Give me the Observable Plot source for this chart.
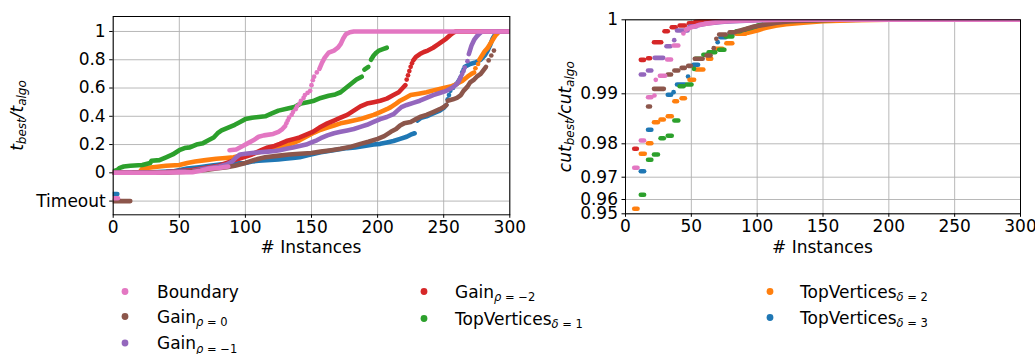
<!DOCTYPE html>
<html><head><meta charset="utf-8">
<script src="https://cdn.jsdelivr.net/npm/d3@7"></script>
<script src="https://cdn.jsdelivr.net/npm/@observablehq/plot@0.6"></script>
<style>
body{margin:0;background:#fff;}
#wrap{position:relative;width:1035px;height:354px;font-family:"DejaVu Sans",sans-serif;}
#wrap svg{position:absolute;top:0;}
</style></head><body><div id="wrap"></div>
<script>
// ---------- series ----------
const seriesKeys = ["top3","top2","top1","gain2","gain1","gain0","boundary"]; // drawing order
const seriesColors = {top3:"#1f77b4", top2:"#ff7f0e", top1:"#2ca02c", gain2:"#d62728", gain1:"#9467bd", gain0:"#8c564b", boundary:"#e377c2"};
const legendOrder = ["boundary","gain0","gain1","gain2","top1","top2","top3"];
const legendLabels = {
  boundary: [["Boundary"]],
  gain0: [["Gain"],["ρ","si"],[" = 0","s"]],
  gain1: [["Gain"],["ρ","si"],[" = −1","s"]],
  gain2: [["Gain"],["ρ","si"],[" = −2","s"]],
  top1: [["TopVertices"],["δ","si"],[" = 1","s"]],
  top2: [["TopVertices"],["δ","si"],[" = 2","s"]],
  top3: [["TopVertices"],["δ","si"],[" = 3","s"]]
};

// ---------- axis ticks ----------
const xTicks = [0,50,100,150,200,250,300];
const leftYTicks = [-0.2,0,0.2,0.4,0.6,0.8,1];
const rightYTicks = [0.95,0.96,0.97,0.98,0.99,1];

// ---------- left panel: t_best / t_algo (dense runs, sparse points, timeouts) ----------
const lBoundary = [
 [[0,0],[30,0],[60,0.005],[66,0.015],[73,0.03],[80,0.035],[87,0.045]],
 [[88,0.16],[93,0.165],[98,0.19],[102,0.21],[106,0.23],[110,0.255],[114,0.265],[121,0.275],[125,0.29],[128,0.31],[130,0.33]],
 [[156,0.735],[158,0.78],[160,0.815],[163,0.85],[167,0.865],[170,0.885],[172,0.91],[174,0.95],[176,0.98],[179,0.995],[182,1],[300,1]]
];
const dBoundary = [[131,0.35],[132,0.37],[133,0.39],[135,0.41],[136,0.43],[138,0.45],[139,0.47],[141,0.49],[142,0.51],[144,0.53],[145,0.55],[147,0.565],[149,0.58],[150,0.62],[151,0.655],[152,0.68],[154,0.71]];

const lGain0 = [
 [[15,0],[40,0.003],[55,0.008],[63,0.015],[70,0.02],[78,0.03],[86,0.04],[92,0.05],[100,0.07],[105,0.085],[110,0.10],[115,0.11],[124,0.12],[133,0.13],[141,0.135],[150,0.14],[157,0.15],[165,0.16],[172,0.17],[180,0.185],[187,0.205],[193,0.22],[200,0.24],[205,0.26],[210,0.29],[214,0.31],[217,0.335],[220,0.35],[225,0.36],[229,0.38],[232,0.395],[237,0.41],[242,0.43],[247,0.45],[250,0.465],[252,0.48]],
 [[253,0.51],[257,0.52],[260,0.53],[263,0.55],[265,0.58],[268,0.61],[270,0.64],[273,0.66],[275,0.68],[278,0.70],[280,0.725],[282,0.75]]
];
const dGain0 = [[284,0.795],[286,0.83],[288,0.865]];

const lGain1 = [
 [[0,0],[40,0.005],[60,0.015],[70,0.03],[80,0.045],[86,0.06],[90,0.08],[93,0.11],[96,0.13],[100,0.135],[105,0.14],[111,0.145],[117,0.15],[122,0.155],[126,0.16],[131,0.17],[136,0.18],[141,0.19],[146,0.2],[150,0.215],[154,0.23],[157,0.245],[162,0.265],[167,0.28],[172,0.29],[177,0.30],[182,0.31],[187,0.325],[192,0.34],[197,0.36],[202,0.38],[207,0.395],[212,0.415],[215,0.44],[218,0.465],[222,0.48],[227,0.495],[232,0.51],[237,0.53],[242,0.55],[247,0.565],[252,0.58],[256,0.60],[259,0.62],[261,0.64],[263,0.68]],
 [[269,0.84],[270,0.87],[271,0.90],[273,0.94],[275,0.965],[277,0.985],[279,1],[300,1]]
];
const dGain1 = [[264,0.70],[265,0.72],[266,0.745],[268,0.79]];

const lGain2 = [
 [[0,0],[40,0.005],[60,0.02],[80,0.05],[95,0.10],[105,0.13],[112,0.16],[117,0.18],[122,0.19],[126,0.205],[131,0.225],[137,0.24],[141,0.25],[146,0.27],[151,0.29],[156,0.32],[162,0.35],[167,0.37],[172,0.39],[177,0.41],[182,0.44],[187,0.47],[192,0.49],[197,0.50],[202,0.51],[207,0.525],[212,0.55],[216,0.57],[219,0.6],[221,0.62]],
 [[227,0.795],[229,0.82],[232,0.84],[235,0.855],[238,0.865],[242,0.885],[246,0.91],[249,0.93],[252,0.95],[255,0.975],[257,0.99],[259,1],[300,1]]
];
const dGain2 = [[222,0.66],[223,0.69],[224,0.72],[225,0.75],[226,0.775]];

const lTop1 = [
 [[0,0.01],[3,0.02],[5,0.035],[8,0.045],[13,0.05],[22,0.055],[28,0.07],[29,0.085],[35,0.09],[40,0.11],[45,0.13],[50,0.16],[54,0.175],[58,0.18],[63,0.2],[68,0.21],[72,0.23],[76,0.25],[79,0.28],[82,0.3],[87,0.32],[92,0.34],[96,0.36],[100,0.38],[105,0.39],[110,0.395],[115,0.40],[120,0.42],[125,0.44],[132,0.455],[137,0.465],[142,0.49],[147,0.5],[152,0.51],[157,0.53],[163,0.545],[168,0.555],[172,0.57],[176,0.6],[180,0.63],[184,0.66],[188,0.68]],
 [[190,0.73],[193,0.75]],
 [[195,0.80],[197,0.83],[199,0.85],[201,0.865],[204,0.875],[207,0.885]]
];
const dTop1 = [];

const lTop2 = [
 [[0,0],[20,0.005],[22,0.03],[30,0.04],[40,0.05],[50,0.055],[56,0.07],[62,0.08],[70,0.09],[78,0.10],[85,0.105],[91,0.11],[96,0.12],[100,0.13],[108,0.14],[116,0.16],[121,0.17],[126,0.18],[133,0.20],[141,0.23],[147,0.26],[152,0.285],[157,0.305],[162,0.32],[167,0.335],[172,0.35],[177,0.36],[182,0.37],[187,0.38],[192,0.395],[197,0.41],[202,0.43],[207,0.45],[210,0.465],[214,0.49],[217,0.51],[221,0.53],[225,0.55],[231,0.56],[237,0.57],[243,0.585],[250,0.60],[255,0.61],[258,0.62],[261,0.635],[264,0.65],[268,0.68],[271,0.70],[273,0.71]],
 [[277,0.80],[279,0.83],[281,0.86],[283,0.88],[285,0.91],[287,0.94],[289,0.97],[291,0.99],[292,1],[300,1]]
];
const dTop2 = [[274,0.74],[276,0.77]];

const lTop3 = [
 [[0,0],[30,0.003],[45,0.01],[56,0.03],[65,0.04],[73,0.05],[82,0.06],[91,0.065],[100,0.07],[105,0.08],[110,0.085],[116,0.09],[125,0.095],[130,0.10],[136,0.105],[141,0.11],[147,0.125],[152,0.135],[157,0.145],[163,0.155],[170,0.165],[177,0.175],[183,0.18],[190,0.19],[197,0.2],[202,0.205],[207,0.215],[212,0.225],[217,0.24],[222,0.255],[225,0.27],[228,0.28]],
 [[230,0.37],[233,0.39],[237,0.40],[242,0.42],[247,0.44],[250,0.46],[252,0.48]],
 [[258,0.62],[260,0.63],[262,0.66],[263,0.68]],
 [[266,0.75],[270,0.77],[274,0.78],[278,0.80],[281,0.83],[283,0.86],[285,0.90],[287,0.95],[289,0.98],[291,1],[300,1]]
];
const dTop3 = [[253,0.52],[254,0.55],[255,0.58],[257,0.60],[264,0.71],[265,0.73]];

// timeouts: [series, first, last, value]
const timeoutRuns = [["top3",0,3.5,-0.15],["boundary",0,4,-0.18],["gain0",0,13.3,-0.2]];

// ---------- right panel: cut_best / cut_algo ----------
// runs of equal values: [first, last, value]
const rGain2Runs = [[7,9,0.9785],[12,14.5,0.99459],[17.5,19,0.99481],[22,27.5,0.99697],[30,32.5,0.99846],[35.5,38.5,0.9990],[41.5,45.5,0.99923],[48.5,51.5,0.99954]];
const rGain2Pts = [];
const rGain2Tail = [[53,0.99972],[60,0.99985],[75,0.99995],[100,1],[300,1]];

const rGain1Runs = [[12,14.5,0.99261],[17.5,20,0.99315],[22.5,29,0.99486],[31.5,34.5,0.99643],[39.5,47.5,0.99855],[49,54,0.9991]];
const rGain1Pts = [[37,0.99724]];
const rGain1Tail = [[55,0.99925],[62,0.9995],[75,0.99975],[100,0.99995],[130,1],[300,1]];

const rBoundaryRuns = [[7,9.5,0.97281],[12,14.5,0.98066],[17.5,20,0.98932],[26.5,30.5,0.99243],[32,35,0.99464],[37,40.5,0.99653]];
const rBoundaryPts = [[22,0.98966],[23,0.99189],[44,0.99815]];
const rBoundaryTail = [[46,0.99865],[50,0.9990],[55,0.99925],[60,0.99945],[70,0.9997],[80,0.99985],[100,0.99995],[120,1],[300,1]];

const rGain0Runs = [[17.5,19,0.98746],[22,29.5,0.99067],[32.5,35,0.99261],[37.5,40.5,0.99315],[43,45.5,0.99351],[48,50,0.99378],[53,59,0.99473],[62,65,0.99518],[71.5,76.5,0.99801],[79.5,83.5,0.99832]];
const rGain0Pts = [[67,0.99616],[69,0.99743]];
const rGain0Tail = [[85,0.99845],[90,0.9987],[97,0.99905],[105,0.9993],[115,0.9996],[125,0.9998],[140,0.9999],[160,1],[300,1]];

const rTop3Runs = [[12,14.5,0.9718],[17.5,20,0.9828],[32.5,35,0.9898],[39.5,45.5,0.99126],[52,55.5,0.99392],[72.5,76.5,0.99765],[79.5,83.5,0.9982]];
const rTop3Pts = [[36.5,0.99022],[47.5,0.99234],[70,0.99697]];
const rTop3Tail = [[85,0.9983],[92,0.99855],[100,0.9988],[107,0.9991],[115,0.9994],[122,0.9996],[135,0.9998],[160,0.99995],[180,1],[300,1]];

const rTop1Runs = [[12,14.5,0.9621],[17.5,20,0.97521],[22,25,0.9768],[27,29.5,0.98112],[32.5,35.5,0.9816],[37.5,40.5,0.98466],[41.5,44.5,0.99103],[47,50.5,0.99126],[53.5,57.5,0.99473],[59.5,61.5,0.99527],[63.5,68.5,0.99562],[71.5,75.5,0.99595],[76.5,81.5,0.99774],[84.5,87.5,0.99846]];
const rTop1Pts = [[52,0.99338]];
const rTop1Tail = [[89,0.9986],[95,0.9989],[102,0.9993],[110,0.9996],[120,0.9998],[140,0.99995],[160,1],[300,1]];

const rTop2Runs = [[7,9.5,0.9535],[12,15,0.977],[17.5,20,0.98012],[22,25,0.98432],[27,29.5,0.98486],[32.5,35.5,0.98552],[37.5,39.5,0.98852],[43,45.5,0.98912],[49,52.5,0.99189],[54,59.5,0.99328],[63,65.5,0.99473],[68.5,74,0.99608],[77,81.5,0.99684],[84.5,91.5,0.99811]];
const rTop2Pts = [];
const rTop2Tail = [[93,0.99825],[100,0.99855],[106,0.9989],[114,0.9992],[122,0.9994],[135,0.9996],[150,0.9998],[175,0.99995],[200,1],[300,1]];

// ---------- assemble ----------
const leftLines = {boundary:lBoundary, gain0:lGain0, gain1:lGain1, gain2:lGain2, top1:lTop1, top2:lTop2, top3:lTop3};
const leftDots = {boundary:dBoundary, gain0:dGain0, gain1:dGain1, gain2:dGain2, top1:dTop1, top2:dTop2, top3:dTop3};
const rightRuns = {boundary:rBoundaryRuns, gain0:rGain0Runs, gain1:rGain1Runs, gain2:rGain2Runs, top1:rTop1Runs, top2:rTop2Runs, top3:rTop3Runs};
const rightPts = {boundary:rBoundaryPts, gain0:rGain0Pts, gain1:rGain1Pts, gain2:rGain2Pts, top1:rTop1Pts, top2:rTop2Pts, top3:rTop3Pts};
const rightTails = {boundary:rBoundaryTail, gain0:rGain0Tail, gain1:rGain1Tail, gain2:rGain2Tail, top1:rTop1Tail, top2:rTop2Tail, top3:rTop3Tail};

const MW = 4.6, DR = 2.35;
const gridStyle = {stroke:"#b0b0b0", strokeOpacity:1, strokeWidth:0.9};

function segRows(segs){ const out=[]; segs.forEach((s,i)=>s.forEach(p=>out.push({k:i,x:p[0],y:p[1]}))); return out; }
function ptRows(pts){ return pts.map(p=>({x:p[0],y:p[1]})); }
function runRows(runs){ return runs.map(r=>({x1:r[0],x2:r[1],y:r[2]})); }

const leftMarks = [];
for (const key of seriesKeys) {
  const c = seriesColors[key];
  leftMarks.push(Plot.line(segRows(leftLines[key]), {x:"x", y:"y", z:"k", stroke:c, strokeWidth:MW, strokeLinecap:"round", strokeLinejoin:"round", clip:true}));
  leftMarks.push(Plot.dot(ptRows(leftDots[key]), {x:"x", y:"y", r:DR, fill:c, clip:true}));
  const tr = timeoutRuns.filter(t=>t[0]===key).map(t=>({x1:t[1],x2:t[2],y:t[3]}));
  leftMarks.push(Plot.ruleY(tr, {x1:"x1", x2:"x2", y:"y", stroke:c, strokeWidth:MW, strokeLinecap:"round", clip:true}));
}
const rightMarks = [];
for (const key of seriesKeys) {
  const c = seriesColors[key];
  rightMarks.push(Plot.ruleY(runRows(rightRuns[key]), {x1:"x1", x2:"x2", y:"y", stroke:c, strokeWidth:MW, strokeLinecap:"round", clip:true}));
  rightMarks.push(Plot.dot(ptRows(rightPts[key]), {x:"x", y:"y", r:DR, fill:c, clip:true}));
  rightMarks.push(Plot.line(ptRows(rightTails[key]), {x:"x", y:"y", stroke:c, strokeWidth:MW, strokeLinecap:"round", strokeLinejoin:"round", clip:true}));
}

const baseStyle = {fontFamily:"DejaVu Sans", fontSize:"17px", background:"transparent", color:"black", overflow:"visible"};

const left = Plot.plot({
  width:535, height:265,
  marginLeft:112.7, marginRight:25.7, marginTop:16, marginBottom:50.7,
  style: baseStyle,
  x:{domain:[0,300]},
  y:{domain:[-0.297,1.106]},
  marks:[
    Plot.gridX({ticks:xTicks, ...gridStyle}),
    Plot.gridY({ticks:leftYTicks, ...gridStyle}),
    ...leftMarks,
    Plot.frame({stroke:"black", strokeWidth:1}),
    Plot.axisX({ticks:xTicks, tickSize:3.5, tickPadding:3, label:null, tickFormat:d=>String(d)}),
    Plot.axisY({ticks:leftYTicks, tickSize:3.5, tickPadding:4, label:null, tickFormat:d=>d===-0.2?"Timeout":String(d)})
  ]
});
left.style.left = "0px";

const right = Plot.plot({
  width:515, height:265,
  marginLeft:105, marginRight:15, marginTop:19.3, marginBottom:51.7,
  style: baseStyle,
  x:{domain:[0,300]},
  y:{type:"linear", domain:rightYTicks, range:[213.3,199,176.7,143.3,93.3,19.3]},
  marks:[
    Plot.gridX({ticks:xTicks, ...gridStyle}),
    Plot.gridY({ticks:rightYTicks, ...gridStyle}),
    ...rightMarks,
    Plot.frame({stroke:"black", strokeWidth:1}),
    Plot.axisX({ticks:xTicks, tickSize:3.5, tickPadding:3, label:null, tickFormat:d=>String(d)}),
    Plot.axisY({ticks:rightYTicks, tickSize:3.5, tickPadding:4, label:null, tickFormat:d=>String(d)})
  ]
});
right.style.left = "520px";

const wrap = document.getElementById("wrap");
wrap.appendChild(left);
wrap.appendChild(right);

// rich text helper: parts = [[text, flags]] flags: s=subscript, i=italic
function rich(textSel, parts, base, sub, shift, allItalic){
  let cur = 0;
  for (const [t, f=""] of parts) {
    const isSub = f.includes("s");
    const target = isSub ? shift : 0;
    textSel.append("tspan").text(t)
      .attr("dy", target - cur)
      .attr("font-size", isSub ? sub : base)
      .attr("font-style", (allItalic || f.includes("i")) ? "italic" : "normal");
    cur = target;
  }
}
// axis labels
{
  const s = d3.select(left);
  s.append("text").attr("x", 311).attr("y", 253).attr("text-anchor","middle").attr("font-size",17).attr("fill","black").text("# Instances");
  const t = s.append("text").attr("transform","translate(22.5,115.5) rotate(-90)").attr("text-anchor","middle").attr("fill","black");
  rich(t, [["t"],["best","s"],["/t"],["algo","s"]], 17, 12, 3.5, true);
}
{
  const s = d3.select(right);
  s.append("text").attr("x", 302.5).attr("y", 253).attr("text-anchor","middle").attr("font-size",17).attr("fill","black").text("# Instances");
  const t = s.append("text").attr("transform","translate(50.5,116.7) rotate(-90)").attr("text-anchor","middle").attr("fill","black");
  rich(t, [["cut"],["best","s"],["/cut"],["algo","s"]], 17, 12, 3.5, true);
}

// legend
const legendCols = [125, 424, 770];
const legendTextCols = [157, 455, 800];
const legendRows = [[297.5,322.5,349],[297.5,324.5],[297.5,323.5]];
const legendLayout = [[0,0],[0,1],[0,2],[1,0],[1,1],[2,0],[2,1]];
const lg = d3.select(wrap).append("svg").attr("width",1035).attr("height",354).style("left","0px").style("pointer-events","none");
legendOrder.forEach((key,i)=>{
  const [col,row] = legendLayout[i];
  const yb = legendRows[col][row];
  lg.append("circle").attr("cx",legendCols[col]).attr("cy",yb-6).attr("r",3.4).attr("fill",seriesColors[key]);
  const t = lg.append("text").attr("x",legendTextCols[col]).attr("y",yb).attr("fill","black").attr("font-family","DejaVu Sans");
  rich(t, legendLabels[key], 17, 11.5, 3.5, false);
});
</script></body></html>
